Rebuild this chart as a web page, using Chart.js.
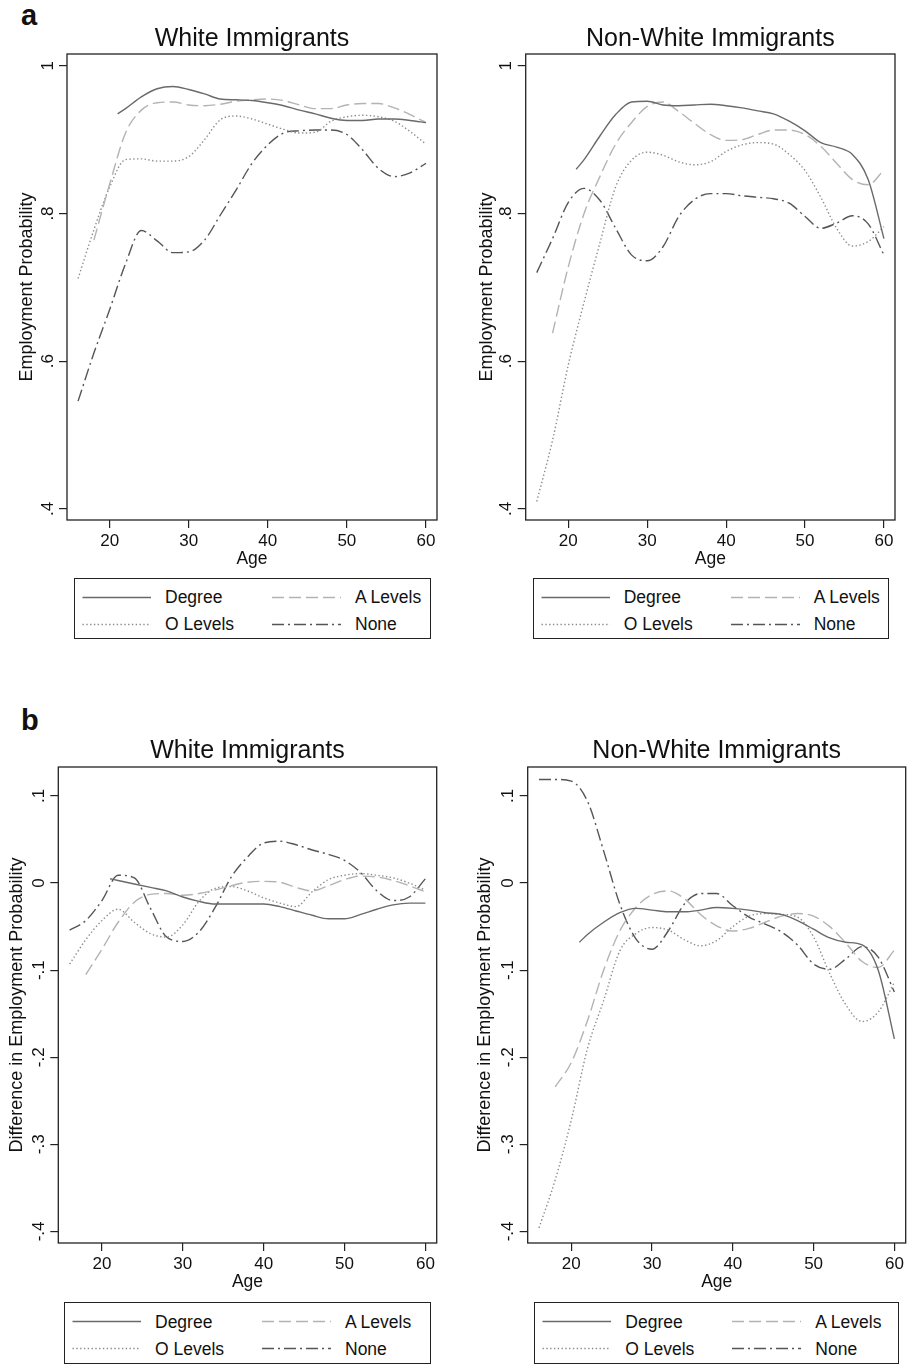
<!DOCTYPE html>
<html>
<head>
<meta charset="utf-8">
<script src="https://cdn.jsdelivr.net/npm/chart.js@4.4.0/dist/chart.umd.min.js"></script>
<style>
  body { margin: 0; background: #fff; }
  #page { position: relative; width: 910px; height: 1366px; font-family: "Liberation Sans", Arial, sans-serif; color: #111; overflow: hidden; }
  canvas { position: absolute; }
  .letter { position: absolute; font-weight: bold; font-size: 29px; line-height: 29px; }
  .ptitle { position: absolute; width: 400px; text-align: center; font-size: 25px; line-height: 25px; white-space: nowrap; }
  .legend { position: absolute; border: 1.3px solid #222; box-sizing: border-box; }
  .legend svg { position: absolute; left: 0; top: 0; }
  .legend span { position: absolute; font-size: 17.5px; line-height: 20px; white-space: nowrap; }
</style>
</head>
<body>
<div id="page">
  <div class="letter" style="left:21px; top:0.5px">a</div>
  <div class="letter" style="left:21px; top:705.5px">b</div>
</div>

<script>
// ages on the x axis
const agesFrom16 = [16, 18, 20, 22, 24, 26, 28, 30, 32, 34, 36, 38, 40, 42, 44, 46, 48, 50, 52, 54, 56, 58, 60];
const agesFrom18 = [18, 20, 22, 24, 26, 28, 30, 32, 34, 36, 38, 40, 42, 44, 46, 48, 50, 52, 54, 56, 58, 60];
const agesFrom21 = [21, 22, 24, 26, 28, 30, 32, 34, 36, 38, 40, 42, 44, 46, 48, 50, 52, 54, 56, 58, 60];

const seriesNames = ['Degree', 'A Levels', 'O Levels', 'None'];
const xTickValues = [20, 30, 40, 50, 60];
const probTicks = [0.4, 0.6, 0.8, 1];
const probTickLabels = ['.4', '.6', '.8', '1'];
const diffTicks = [-0.4, -0.3, -0.2, -0.1, 0, 0.1];
const diffTickLabels = ['-.4', '-.3', '-.2', '-.1', '0', '.1'];

// (a) employment probability, white immigrants
const whiteDegree = [0.935, 0.942, 0.958, 0.969, 0.972, 0.968, 0.962, 0.955, 0.954, 0.953, 0.950, 0.946, 0.940, 0.935, 0.929, 0.926, 0.926, 0.928, 0.928, 0.926, 0.923];
const whiteALevels = [0.764, 0.840, 0.909, 0.940, 0.950, 0.951, 0.947, 0.946, 0.948, 0.952, 0.954, 0.955, 0.953, 0.947, 0.942, 0.942, 0.947, 0.949, 0.949, 0.943, 0.934, 0.923];
const whiteOLevels = [0.712, 0.778, 0.836, 0.873, 0.874, 0.871, 0.871, 0.877, 0.900, 0.927, 0.932, 0.928, 0.921, 0.914, 0.909, 0.910, 0.925, 0.931, 0.933, 0.931, 0.925, 0.911, 0.894];
const whiteNone = [0.546, 0.611, 0.670, 0.732, 0.777, 0.763, 0.747, 0.748, 0.764, 0.798, 0.832, 0.868, 0.893, 0.909, 0.912, 0.913, 0.913, 0.907, 0.886, 0.861, 0.850, 0.855, 0.868];

// (a) employment probability, non-white immigrants
const nonWhiteDegree = [0.860, 0.873, 0.905, 0.934, 0.951, 0.952, 0.947, 0.946, 0.947, 0.948, 0.946, 0.943, 0.939, 0.935, 0.925, 0.912, 0.896, 0.890, 0.880, 0.846, 0.766];
const nonWhiteALevels = [0.638, 0.728, 0.800, 0.850, 0.894, 0.923, 0.945, 0.951, 0.938, 0.922, 0.907, 0.899, 0.900, 0.907, 0.913, 0.913, 0.907, 0.891, 0.868, 0.846, 0.839, 0.859];
const nonWhiteOLevels = [0.410, 0.493, 0.595, 0.680, 0.760, 0.836, 0.872, 0.883, 0.879, 0.870, 0.866, 0.870, 0.884, 0.893, 0.896, 0.894, 0.880, 0.858, 0.822, 0.780, 0.756, 0.762, 0.782];
const nonWhiteNone = [0.720, 0.766, 0.815, 0.834, 0.818, 0.780, 0.744, 0.736, 0.755, 0.796, 0.819, 0.827, 0.827, 0.824, 0.822, 0.820, 0.814, 0.796, 0.780, 0.787, 0.797, 0.786, 0.744];

// (b) difference in employment probability, white immigrants
const whiteDiffDegree = [0.005, 0.003, -0.001, -0.005, -0.009, -0.016, -0.021, -0.024, -0.024, -0.024, -0.024, -0.027, -0.032, -0.037, -0.041, -0.041, -0.036, -0.030, -0.025, -0.023, -0.023];
const whiteDiffALevels = [-0.105, -0.076, -0.045, -0.022, -0.013, -0.012, -0.014, -0.012, -0.008, -0.003, 0.001, 0.002, 0.001, -0.005, -0.009, -0.003, 0.004, 0.008, 0.007, 0.003, -0.003, -0.010];
const whiteDiffOLevels = [-0.093, -0.065, -0.043, -0.030, -0.045, -0.058, -0.062, -0.048, -0.021, -0.006, -0.004, -0.009, -0.017, -0.023, -0.027, -0.010, 0.004, 0.009, 0.011, 0.009, 0.006, 0.000, -0.008];
const whiteDiffNone = [-0.054, -0.043, -0.020, 0.009, 0.006, -0.029, -0.062, -0.067, -0.056, -0.028, 0.007, 0.030, 0.046, 0.048, 0.044, 0.038, 0.033, 0.026, 0.012, -0.009, -0.020, -0.016, 0.005];

// (b) difference in employment probability, non-white immigrants
const nonWhiteDiffDegree = [-0.068, -0.059, -0.045, -0.034, -0.029, -0.031, -0.033, -0.033, -0.031, -0.028, -0.029, -0.031, -0.034, -0.036, -0.043, -0.053, -0.063, -0.068, -0.071, -0.100, -0.179];
const nonWhiteDiffALevels = [-0.234, -0.206, -0.158, -0.100, -0.055, -0.028, -0.013, -0.009, -0.018, -0.036, -0.049, -0.055, -0.052, -0.045, -0.038, -0.035, -0.038, -0.050, -0.069, -0.090, -0.097, -0.077];
const nonWhiteDiffOLevels = [-0.396, -0.341, -0.272, -0.190, -0.135, -0.078, -0.058, -0.051, -0.054, -0.065, -0.072, -0.066, -0.050, -0.038, -0.035, -0.036, -0.039, -0.062, -0.104, -0.140, -0.159, -0.148, -0.114];
const nonWhiteDiffNone = [0.119, 0.119, 0.117, 0.094, 0.037, -0.024, -0.064, -0.076, -0.055, -0.024, -0.012, -0.012, -0.026, -0.039, -0.047, -0.056, -0.071, -0.093, -0.099, -0.087, -0.073, -0.085, -0.125];

const seriesAges = [agesFrom21, agesFrom18, agesFrom16, agesFrom16];

// line look for each education group
const lineStyles = [
    { color: '#6a6a6a', dash: [] },
    { color: '#b3b3b3', dash: [12, 5] },
    { color: '#8c8c8c', dash: [1.4, 2.4] },
    { color: '#555555', dash: [12, 4, 2, 4] }
];

const FONT = '"Liberation Sans", Arial, sans-serif';

const panels = [
    { box: [67, 437, 54, 520], left: 0, title: 'White Immigrants', yTitle: 'Employment Probability', yTitleX: 27,
      range: [0.385, 1.016], ticks: probTicks, labels: probTickLabels,
      series: [whiteDegree, whiteALevels, whiteOLevels, whiteNone], legend: [74, 577.7, 357, 61.5] },
    { box: [525.7, 895, 54, 520], left: 460, title: 'Non-White Immigrants', yTitle: 'Employment Probability', yTitleX: 486.7,
      range: [0.385, 1.016], ticks: probTicks, labels: probTickLabels,
      series: [nonWhiteDegree, nonWhiteALevels, nonWhiteOLevels, nonWhiteNone], legend: [532.7, 577.7, 356.5, 61.5] },
    { box: [58.3, 436.7, 766.7, 1243.3], left: 0, title: 'White Immigrants', yTitle: 'Difference in Employment Probability', yTitleX: 17.5,
      range: [-0.4133, 0.1333], ticks: diffTicks, labels: diffTickLabels,
      series: [whiteDiffDegree, whiteDiffALevels, whiteDiffOLevels, whiteDiffNone], legend: [64, 1302.3, 366.7, 62] },
    { box: [527.7, 905.7, 766.7, 1243.3], left: 460, title: 'Non-White Immigrants', yTitle: 'Difference in Employment Probability', yTitleX: 485.5,
      range: [-0.4133, 0.1333], ticks: diffTicks, labels: diffTickLabels,
      series: [nonWhiteDiffDegree, nonWhiteDiffALevels, nonWhiteDiffOLevels, nonWhiteDiffNone], legend: [534.3, 1302.3, 364.7, 62] }
];

// frame round the plot region
const framePlugin = {
    id: 'frame',
    afterDraw(chart) {
        const a = chart.chartArea;
        const ctx = chart.ctx;
        ctx.save();
        ctx.strokeStyle = '#222';
        ctx.lineWidth = 1.3;
        ctx.strokeRect(a.left, a.top, a.right - a.left, a.bottom - a.top);
        ctx.restore();
    }
};

// y tick labels are rotated like the axis title
const rotatedTicksPlugin = {
    id: 'rotatedTicks',
    afterDraw(chart, args, opts) {
        const y = chart.scales.y;
        const ctx = chart.ctx;
        ctx.save();
        ctx.fillStyle = '#111';
        ctx.font = '17px ' + FONT;
        ctx.textAlign = 'center';
        ctx.textBaseline = 'middle';
        opts.values.forEach((v, i) => {
            ctx.save();
            ctx.translate(chart.chartArea.left - 19, y.getPixelForValue(v));
            ctx.rotate(-Math.PI / 2);
            ctx.fillText(opts.labels[i], 0, 0);
            ctx.restore();
        });
        ctx.restore();
    }
};

const page = document.getElementById('page');

function addText(cls, text, style) {
    const d = document.createElement('div');
    d.className = cls;
    d.textContent = text;
    Object.assign(d.style, style);
    page.appendChild(d);
}

function addLegend(pos) {
    const [l, t, w, h] = pos;
    const box = document.createElement('div');
    box.className = 'legend';
    Object.assign(box.style, { left: l + 'px', top: t + 'px', width: w + 'px', height: h + 'px' });
    const rows = [18.5, 45.5];
    const cols = [[7.5, 76, 90], [197, 266, 280]];
    let svg = `<svg width="${w}" height="${h}">`;
    let spans = '';
    seriesNames.forEach((name, i) => {
        const c = cols[i % 2];
        const r = rows[Math.floor(i / 2)];
        const s = lineStyles[i];
        svg += `<line x1="${c[0]}" y1="${r}" x2="${c[1]}" y2="${r}" stroke="${s.color}" stroke-width="1.4" stroke-dasharray="${s.dash.join(' ')}"/>`;
        spans += `<span style="left:${c[2]}px; top:${r - 10}px">${name}</span>`;
    });
    svg += '</svg>';
    box.innerHTML = svg + spans;
    page.appendChild(box);
}

panels.forEach(p => {
    const [bl, br, bt, bb] = p.box;
    const width = 450;
    const top = bt - 10;
    const height = (bb - bt) + 10 + 52;

    const canvas = document.createElement('canvas');
    canvas.width = width;
    canvas.height = height;
    canvas.style.left = p.left + 'px';
    canvas.style.top = top + 'px';
    page.appendChild(canvas);

    addText('ptitle', p.title, { left: ((bl + br) / 2 - 200) + 'px', top: (bt - 29.5) + 'px' });
    addLegend(p.legend);

    const datasets = p.series.map((vals, i) => ({
        label: seriesNames[i],
        data: seriesAges[i].map((age, k) => ({ x: age, y: vals[k] })),
        borderColor: lineStyles[i].color,
        borderDash: lineStyles[i].dash,
        borderWidth: 1.4,
        pointRadius: 0,
        fill: false,
        cubicInterpolationMode: 'monotone'
    }));

    new Chart(canvas, {
        type: 'line',
        data: { datasets: datasets },
        options: {
            responsive: false,
            animation: false,
            events: [],
            layout: { padding: { top: 10, left: 0, bottom: 0, right: p.left + width - br } },
            plugins: {
                legend: { display: false },
                tooltip: { enabled: false },
                rotatedTicks: { values: p.ticks, labels: p.labels }
            },
            scales: {
                x: {
                    type: 'linear',
                    min: 14.6,
                    max: 61.4,
                    afterBuildTicks: s => { s.ticks = xTickValues.map(v => ({ value: v })); },
                    afterFit: s => { s.height = 52; s.paddingLeft = 0; s.paddingRight = 0; s.paddingTop = 0; s.paddingBottom = 0; },
                    ticks: { color: '#111', font: { family: FONT, size: 17 }, padding: 3, maxRotation: 0, autoSkip: false },
                    grid: { drawOnChartArea: false, drawTicks: true, tickLength: 8, color: '#222', lineWidth: 1.2 },
                    border: { display: false },
                    title: { display: true, text: 'Age', color: '#111', font: { family: FONT, size: 17.5 }, padding: { top: 0, bottom: 2 } }
                },
                y: {
                    type: 'linear',
                    min: p.range[0],
                    max: p.range[1],
                    afterBuildTicks: s => { s.ticks = p.ticks.map(v => ({ value: v })); },
                    afterFit: s => { s.width = bl - p.left; s.paddingLeft = 0; s.paddingRight = 0; s.paddingTop = 0; s.paddingBottom = 0; },
                    ticks: { display: false },
                    grid: { drawOnChartArea: false, drawTicks: true, tickLength: 8, color: '#222', lineWidth: 1.2 },
                    border: { display: false },
                    title: { display: true, text: p.yTitle, color: '#111', font: { family: FONT, size: 18 }, padding: { top: p.yTitleX - p.left - 10.8, bottom: 0 } }
                }
            }
        },
        plugins: [framePlugin, rotatedTicksPlugin]
    });
});
</script>
</body>
</html>
